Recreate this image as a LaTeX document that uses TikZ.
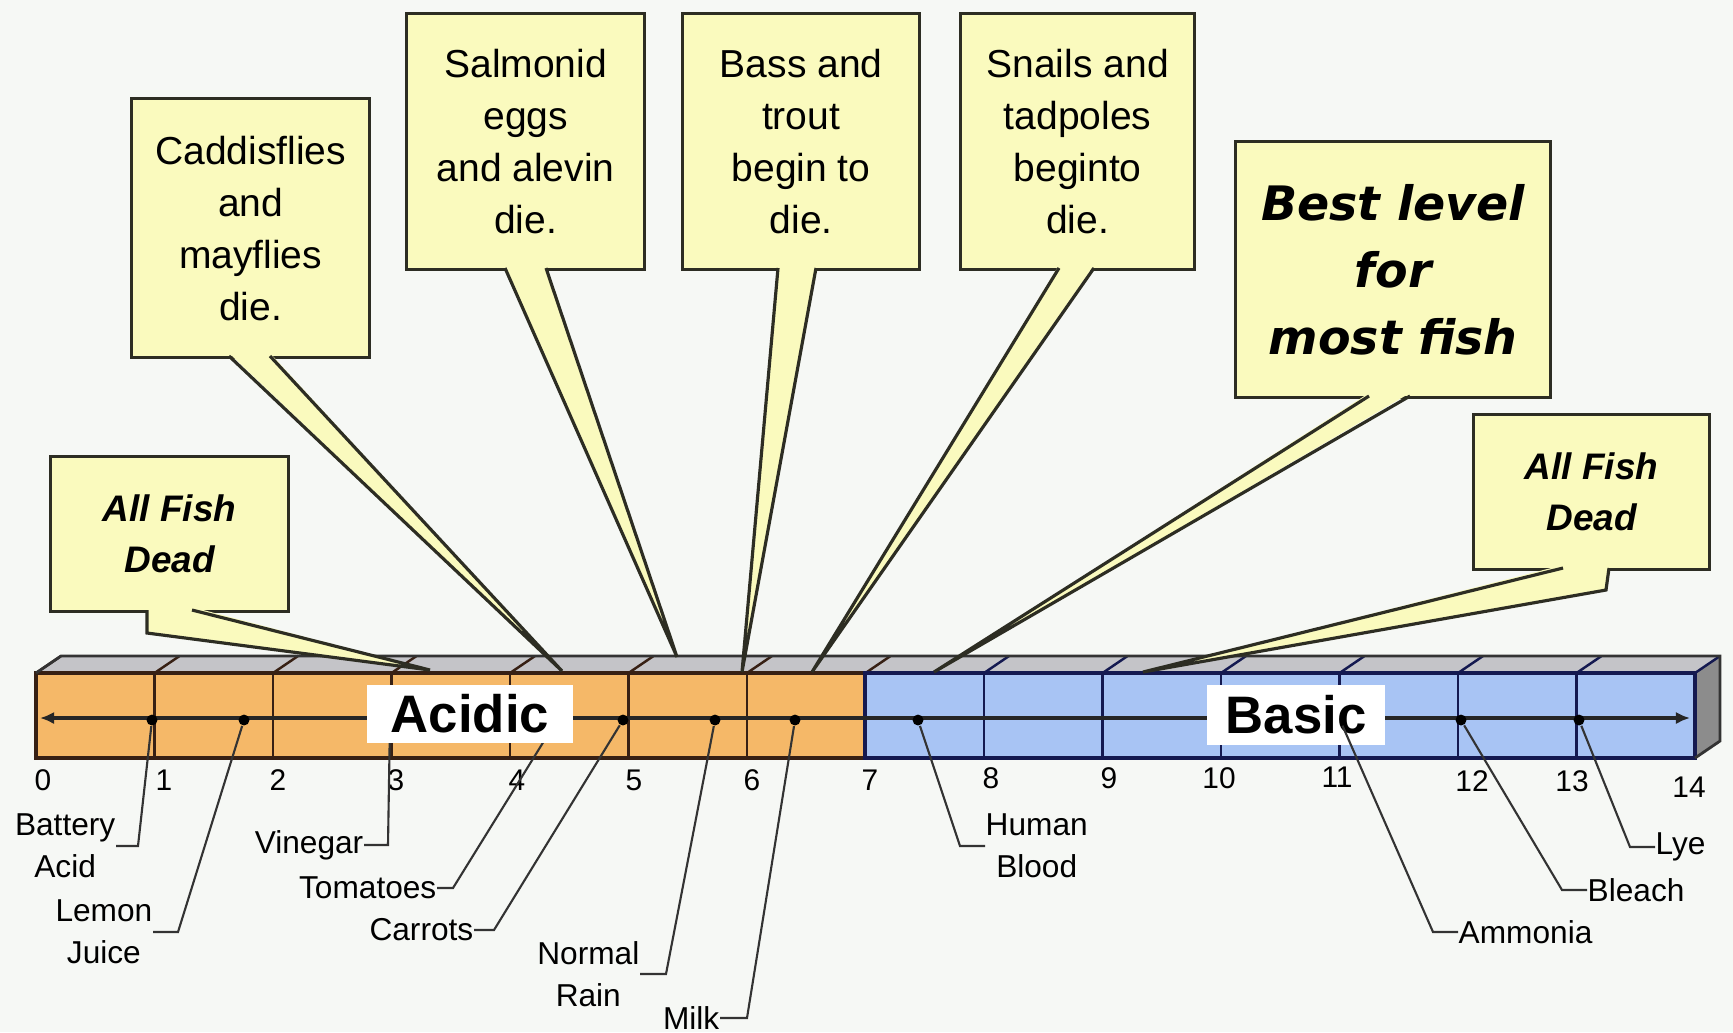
\documentclass[tikz,border=0pt]{standalone}
\usepackage{fontspec}
\setmainfont{Liberation Sans}
\newfontfamily\vfont{DejaVu Sans}
\usetikzlibrary{arrows.meta}
\definecolor{bgpaper}{RGB}{246,248,245}
\definecolor{acidfill}{RGB}{245,184,104}
\definecolor{basefill}{RGB}{168,196,244}
\definecolor{notefill}{RGB}{250,250,190}
\definecolor{noteedge}{RGB}{45,45,35}
\definecolor{acidline}{RGB}{55,32,20}
\definecolor{baseedge}{RGB}{20,25,80}
\definecolor{topgray}{RGB}{196,196,200}
\definecolor{sidegray}{RGB}{140,140,140}
\tikzset{
	notebox/.style={draw=noteedge,fill=notefill,line width=0.9pt,inner sep=0pt,anchor=north west,
		align=center,font=\fontsize{11.1}{14.8}\selectfont},
	deadbox/.style={notebox,font=\fontsize{10.5}{14.5}\selectfont\bfseries\itshape},
	ptredge/.style={draw=noteedge,line width=0.9pt},
	leader/.style={draw=black!80,line width=0.6pt},
	phdot/.style={circle,fill=black,inner sep=1.1pt},
	phlbl/.style={align=center,inner sep=0pt,font=\fontsize{9}{12}\selectfont},
	phnum/.style={inner sep=0pt,font=\fontsize{8.5}{9}\selectfont},
	sidelbl/.style={fill=white,inner sep=0pt,font=\fontsize{15}{16}\selectfont\bfseries}
}

\begin{document}
\begin{tikzpicture}[x=0.01cm,y=-0.01cm,
		acidrule/.style={draw=acidline,line width=0.7pt},
		baserule/.style={draw=baseedge,line width=0.7pt},
		midline/.style={{Latex[length=4pt,width=3.5pt]}-{Latex[length=4pt,width=3.5pt]},line width=1.1pt,draw=black!85}]
	\useasboundingbox (0,0) rectangle (1733,1032);
	\fill[bgpaper] (0,0) rectangle (1733,1032);
	
	% the pH bar
	\fill[topgray] (36,673) -- (61,656) -- (1720,656) -- (1695,673) -- cycle;
	\fill[sidegray] (1695,673) -- (1720,656) -- (1720,741) -- (1695,758) -- cycle;
	\fill[acidfill] (36,673) rectangle (865,758);
	\fill[basefill] (865,673) rectangle (1695,758);
	\foreach \k in {0,...,7} \draw[acidrule] ({36+118.5*\k},673) -- ++(25,-17);
	\foreach \k in {8,...,14} \draw[baserule] ({36+118.5*\k},673) -- ++(25,-17);
	\foreach \k in {1,...,6} \draw[acidrule] ({36+118.5*\k},673) -- ++(0,85);
	\foreach \k in {8,...,13} \draw[baserule] ({36+118.5*\k},673) -- ++(0,85);
	\draw[acidrule,line width=0.9pt] (36,673) rectangle (865,758);
	\draw[baserule,line width=0.9pt] (865,673) rectangle (1695,758);
	\draw[black!80,line width=0.8pt] (36,673) -- (61,656) -- (1720,656) -- (1720,741) -- (1695,758);
	\draw[midline] (40,718) -- (1690,718);
	
	\foreach \v/\px/\py in {0/43/780,1/164/780,2/278/780,3/396/780,4/517/780,5/634/780,6/752/780,
		7/870/780,8/991/778,9/1109/778,10/1219/778,11/1337/777,12/1472/781,13/1572/781,14/1689/787}
	\node[phnum] (n\v) at (\px,\py) {\v};
	
	% substances
	\node[phdot] (dBattery) at (152,720) {};
	\node[phdot] (dLemon) at (244,720) {};
	\node[phdot] (dVinegar) at (390,720) {};
	\node[phdot] (dTomato) at (557,720) {};
	\node[phdot] (dCarrot) at (623,720) {};
	\node[phdot] (dRain) at (715,720) {};
	\node[phdot] (dMilk) at (795,720) {};
	\node[phdot] (dBlood) at (918,720) {};
	\node[phdot] (dAmmonia) at (1340,720) {};
	\node[phdot] (dBleach) at (1461,720) {};
	\node[phdot] (dLye) at (1579,720) {};
	
	\node[phlbl,anchor=east] (lBattery) at (116,846) {Battery\\Acid};
	\node[phlbl,anchor=east] (lLemon) at (153,932) {Lemon\\Juice};
	\node[phlbl,anchor=east] (lVinegar) at (364,845) {Vinegar};
	\node[phlbl,anchor=east] (lTomato) at (437,888) {Tomatoes};
	\node[phlbl,anchor=east] (lCarrot) at (474,930) {Carrots};
	\node[phlbl,anchor=east] (lRain) at (640,974) {Normal\\Rain};
	\node[phlbl,anchor=east] (lMilk) at (720,1018) {Milk};
	\node[phlbl,anchor=west] (lBlood) at (985,846) {Human\\Blood};
	\node[phlbl,anchor=west] (lAmmonia) at (1458,932) {Ammonia};
	\node[phlbl,anchor=west] (lBleach) at (1587,890) {Bleach};
	\node[phlbl,anchor=west] (lLye) at (1655,847) {Lye};
	
	\draw[leader] (lBattery.east) -- ++(22,0) -- (dBattery);
	\draw[leader] (lLemon.east) -- ++(25,0) -- (dLemon);
	\draw[leader] (lVinegar.east) -- ++(24,0) -- (dVinegar);
	\draw[leader] (lTomato.east) -- ++(16,0) -- (dTomato);
	\draw[leader] (lCarrot.east) -- ++(20,0) -- (dCarrot);
	\draw[leader] (lRain.east) -- ++(26,0) -- (dRain);
	\draw[leader] (lMilk.east) -- ++(27,0) -- (dMilk);
	\draw[leader] (lBlood.west) -- ++(-25,0) -- (dBlood);
	\draw[leader] (lBleach.west) -- ++(-25,0) -- (dBleach);
	\draw[leader] (lLye.west) -- ++(-25,0) -- (dLye);
	
	\node[sidelbl,minimum width=2.06cm,minimum height=0.58cm] (acid) at (470,714) {Acidic};
	\node[sidelbl,minimum width=1.78cm,minimum height=0.60cm] (base) at (1296,715) {Basic};
	\draw[leader] (lAmmonia.west) -- ++(-25,0) -- (dAmmonia);
	
	% callouts
	\coordinate (tDeadL) at (430,670);
	\coordinate (tCaddis) at (562,671);
	\coordinate (tSalmon) at (677,657);
	\coordinate (tBass) at (742,672);
	\coordinate (tSnail) at (812,672);
	\coordinate (tBest) at (934,672);
	\coordinate (tDeadR) at (1143,672);
	
	\node[deadbox,minimum width=2.38cm,minimum height=1.55cm] (cDeadL) at (49,455) {All Fish\\Dead};
	\node[notebox,minimum width=2.38cm,minimum height=2.59cm] (cCaddis) at (130,97) {Caddisflies\\and\\mayflies\\die.};
	\node[notebox,minimum width=2.38cm,minimum height=2.56cm] (cSalmon) at (405,12) {Salmonid\\eggs\\and alevin\\die.};
	\node[notebox,minimum width=2.37cm,minimum height=2.56cm] (cBass) at (681,12) {Bass and\\trout\\begin to\\die.};
	\node[notebox,minimum width=2.34cm,minimum height=2.56cm] (cSnail) at (959,12) {Snails and\\tadpoles\\beginto\\die.};
	\node[notebox,minimum width=3.15cm,minimum height=2.56cm,font=\fontsize{13.5}{19}\selectfont\vfont\bfseries\itshape]
	(cBest) at (1234,140) {Best level\\for\\most fish};
	\node[deadbox,minimum width=2.36cm,minimum height=1.55cm] (cDeadR) at (1472,413) {All Fish\\Dead};
	
	\fill[notefill] (147,607) -- (147,633) -- (tDeadL) -- (192,607) -- cycle;
	\draw[ptredge] (147,610) -- (147,633) -- (tDeadL) -- (192,610);
	\fill[notefill] (229,353) -- (tCaddis) -- (270,353) -- cycle;
	\draw[ptredge] (229,356) -- (tCaddis) -- (270,356);
	\fill[notefill] (505,265) -- (tSalmon) -- (546,265) -- cycle;
	\draw[ptredge] (505,268) -- (tSalmon) -- (546,268);
	\fill[notefill] (778,265) -- (tBass) -- (816,265) -- cycle;
	\draw[ptredge] (778,268) -- (tBass) -- (816,268);
	\fill[notefill] (1059,265) -- (tSnail) -- (1094,265) -- cycle;
	\draw[ptredge] (1059,268) -- (tSnail) -- (1094,268);
	\fill[notefill] (1369,393) -- (tBest) -- (1410,393) -- cycle;
	\draw[ptredge] (1369,396) -- (tBest) -- (1410,396);
	\fill[notefill] (1563,565) -- (tDeadR) -- (1606,590) -- (1609,565) -- cycle;
	\draw[ptredge] (1563,568) -- (tDeadR) -- (1606,590) -- (1609,568);
\end{tikzpicture}
\end{document}
